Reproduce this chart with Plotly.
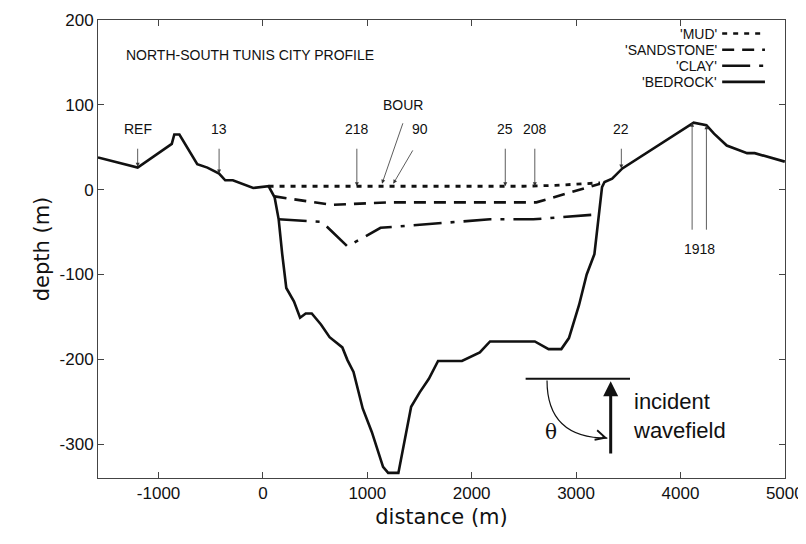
import plotly.graph_objects as go

bed_x = [-1580,-1200,-873,-849,-800,-629,-532,-420,-361,-288,-93,54,112,151,185,224,298,356,410,468,556,639,761,810,868,907,956,1044,1151,1200,1298,1420,1502,1590,1678,1907,2078,2176,2605,2737,2859,2932,3029,3102,3176,3249,3273,3346,3444,4127,4249,4322,4444,4639,4712,5000]
bed_y = [38,26,54,65,65,30,26,19,11,11,2,4,-9,-35,-76,-116,-132,-151,-146,-146,-159,-174,-186,-201,-215,-235,-258,-286,-327,-334,-334,-256,-239,-223,-202,-202,-192,-179,-179,-188,-188,-175,-136,-100,-76,3,9,13,25,79,76,66,52,43,43,33]
mud_x = [54,1000,2500,2800,3230]
mud_y = [4,4,4,5,8]
sand_x = [112,660,1200,2620,3230]
sand_y = [-8,-18,-15,-15,7]
clay_x = [151,566,810,1127,2176,2590,3224]
clay_y = [-35,-38,-67,-45,-35,-35,-29]
x_ticks = [-1000, 0, 1000, 2000, 3000, 4000, 5000]
y_ticks = [-300, -200, -100, 0, 100, 200]

stations = [("REF",-1200,27,-1200,72,-1200,50),("13",-420,19,-420,72,-420,50),
            ("218",900,4,900,72,900,50),("25",2322,4,2322,72,2322,50),
            ("208",2605,4,2605,72,2605,50),("22",3434,25,3434,72,3434,50)]

F = "Liberation Sans"
CLAY = "28px,9px,4px,9px"
fig = go.Figure()
fig.add_trace(go.Scatter(x=bed_x, y=bed_y, mode="lines", line=dict(color="#111", width=2.6), name="'BEDROCK'"))
fig.add_trace(go.Scatter(x=mud_x, y=mud_y, mode="lines", line=dict(color="#111", width=2.8, dash="5px,6px"), name="'MUD'"))
fig.add_trace(go.Scatter(x=sand_x, y=sand_y, mode="lines", line=dict(color="#111", width=2.6, dash="12px,8px"), name="'SANDSTONE'"))
fig.add_trace(go.Scatter(x=clay_x, y=clay_y, mode="lines", line=dict(color="#111", width=2.6, dash=CLAY), name="'CLAY'"))

ann = []
def arrow(x, y, ax, ay, w=0.8, hs=1):
    ann.append(dict(x=x, y=y, ax=ax, ay=ay, xref="x", yref="y", axref="x", ayref="y", text="",
                    showarrow=True, arrowhead=2, arrowsize=hs, arrowwidth=w, arrowcolor="#333"))
LF = dict(family=F, size=14, color="#111")
for name, x, ty, lx, ly, tx, tyl in stations:
    arrow(x, ty, tx, tyl)
    ann.append(dict(x=lx, y=ly, text=name, showarrow=False, font=LF))
ann.append(dict(x=1346, y=100, text="BOUR", showarrow=False, font=LF))
arrow(1141, 7, 1346, 80)
ann.append(dict(x=1502, y=72, text="90", showarrow=False, font=LF))
arrow(1249, 7, 1444, 48)
arrow(4112, 79, 4112, -49)
arrow(4249, 76, 4249, -49)
ann.append(dict(x=4180, y=-70, text="1918", showarrow=False, font=LF))
ann.append(dict(x=-1330, y=159, text="NORTH-SOUTH TUNIS CITY PROFILE", xanchor="left", showarrow=False, font=LF))
ann.append(dict(x=3332, y=-226, ax=3332, ay=-313, xref="x", yref="y", axref="x", ayref="y", text="",
                showarrow=True, arrowhead=2, arrowsize=1, arrowwidth=3, arrowcolor="#111"))
ann.append(dict(x=3300, y=-293, ax=3240, ay=-291, xref="x", yref="y", axref="x", ayref="y", text="",
                showarrow=True, arrowhead=5, arrowsize=1.6, arrowwidth=1.2, arrowcolor="#111"))
ann.append(dict(x=3530, y=-267, text="incident<br>wavefield", xanchor="left", align="left", showarrow=False,
                font=dict(family=F, size=22, color="#111")))
ann.append(dict(x=2761, y=-286, text="θ", showarrow=False, font=dict(family="DejaVu Serif", size=20, color="#111")))

leg = [("'MUD'", "5px,6px", 184), ("'SANDSTONE'", "12px,8px", 165), ("'CLAY'", CLAY, 146), ("'BEDROCK'", "solid", 127)]
shapes = [dict(type="line", x0=2517, x1=3517, y0=-223, y1=-223, line=dict(color="#111", width=2)),
          dict(type="path", path="M 2722,-225 Q 2722,-293 3300,-293", line=dict(color="#111", width=1.2))]
for t, d, y in leg:
    ann.append(dict(x=4370, y=y, text=t, xanchor="right", showarrow=False, font=LF))
    shapes.append(dict(type="line", x0=4400, x1=4810, y0=y, y1=y, line=dict(color="#111", width=2.6, dash=d)))

fig.update_layout(width=806, height=544, plot_bgcolor="white", paper_bgcolor="white", showlegend=False,
                  margin=dict(l=90, r=29, t=12, b=74, autoexpand=False), annotations=ann, shapes=shapes)
ax = dict(showgrid=False, zeroline=False, showline=True, linecolor="#444", linewidth=1, mirror="ticks",
          ticks="inside", ticklen=6, tickcolor="#444", tickfont=dict(family=F, size=17, color="#111"), automargin=False)
fig.update_xaxes(range=[-1580, 5002], tickvals=x_ticks, ticktext=[str(v) for v in x_ticks],
                 title=dict(text="distance (m)", font=dict(family="DejaVu Sans", size=21, color="#111"), standoff=6), **ax)
fig.update_yaxes(range=[-340, 200], tickvals=y_ticks, ticktext=[str(v) for v in y_ticks],
                 title=dict(text="depth (m)", font=dict(family="DejaVu Sans", size=21, color="#111"), standoff=4), **ax)
fig.write_html("out.html")
